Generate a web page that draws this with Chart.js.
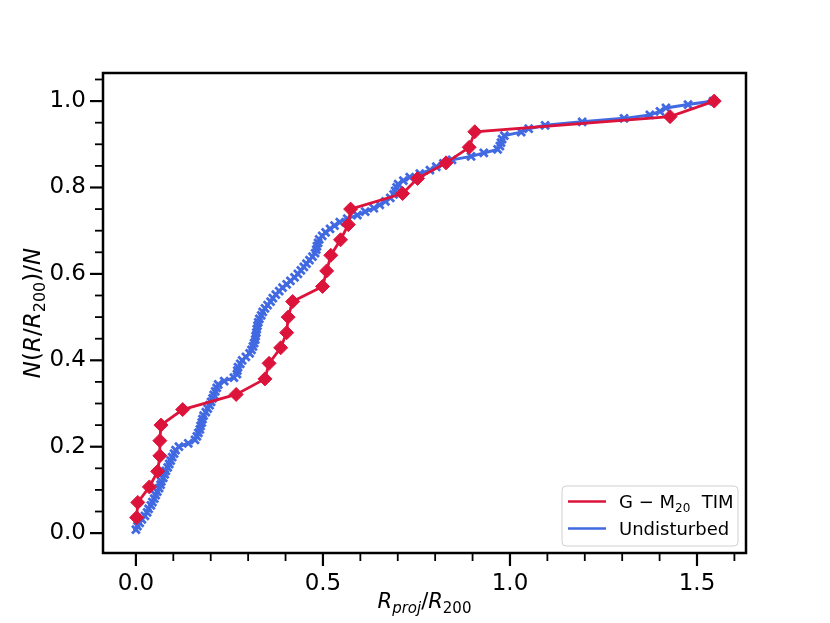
<!DOCTYPE html>
<html>
<head>
<meta charset="utf-8">
<script src="https://cdn.jsdelivr.net/npm/chart.js@4.4.1/dist/chart.umd.min.js"></script>
<style>
  html, body { margin: 0; padding: 0; background: #fff; }
</style>
</head>
<body>
<canvas id="c" width="830" height="623"></canvas>
<script>
// G - M20 TIM sample (cumulative, 28 objects)
const timX = [0.002, 0.005, 0.036, 0.058, 0.064, 0.064, 0.067, 0.125, 0.268, 0.345,
  0.356, 0.387, 0.403, 0.407, 0.419, 0.499, 0.510, 0.521, 0.547, 0.568,
  0.574, 0.713, 0.753, 0.829, 0.891, 0.906, 1.428, 1.546]
const timY = [0.036, 0.071, 0.107, 0.143, 0.179, 0.214, 0.250, 0.286, 0.321, 0.357,
  0.393, 0.429, 0.464, 0.500, 0.536, 0.571, 0.607, 0.643, 0.679, 0.714,
  0.750, 0.786, 0.821, 0.857, 0.893, 0.929, 0.964, 1.000]

// undisturbed sample (cumulative)
const undX = [0.000, 0.004, 0.010, 0.016, 0.024, 0.030, 0.034, 0.040, 0.044, 0.049,
  0.053, 0.057, 0.062, 0.066, 0.068, 0.073, 0.077, 0.080, 0.085, 0.089,
  0.093, 0.097, 0.102, 0.106, 0.115, 0.140, 0.158, 0.163, 0.167, 0.171,
  0.173, 0.176, 0.178, 0.181, 0.187, 0.192, 0.197, 0.201, 0.205, 0.208,
  0.212, 0.216, 0.220, 0.236, 0.262, 0.270, 0.271, 0.273, 0.279, 0.284,
  0.294, 0.304, 0.309, 0.313, 0.316, 0.319, 0.320, 0.322, 0.323, 0.325,
  0.327, 0.330, 0.335, 0.339, 0.345, 0.352, 0.360, 0.366, 0.374, 0.383,
  0.392, 0.403, 0.413, 0.424, 0.433, 0.441, 0.449, 0.456, 0.464, 0.472,
  0.479, 0.482, 0.484, 0.487, 0.490, 0.498, 0.507, 0.519, 0.531, 0.545,
  0.565, 0.592, 0.613, 0.636, 0.652, 0.667, 0.680, 0.689, 0.693, 0.697,
  0.701, 0.715, 0.732, 0.759, 0.786, 0.803, 0.822, 0.845, 0.896, 0.930,
  0.967, 0.973, 0.976, 0.979, 0.985, 1.030, 1.050, 1.094, 1.193, 1.305,
  1.374, 1.401, 1.417, 1.476, 1.543]
const undY = [0.008, 0.016, 0.024, 0.032, 0.040, 0.048, 0.056, 0.064, 0.072, 0.080,
  0.088, 0.096, 0.104, 0.112, 0.120, 0.128, 0.136, 0.144, 0.152, 0.160,
  0.168, 0.176, 0.184, 0.192, 0.200, 0.208, 0.216, 0.224, 0.232, 0.240,
  0.248, 0.256, 0.264, 0.272, 0.280, 0.288, 0.296, 0.304, 0.312, 0.320,
  0.328, 0.336, 0.344, 0.352, 0.360, 0.368, 0.376, 0.384, 0.392, 0.400,
  0.408, 0.416, 0.424, 0.432, 0.440, 0.448, 0.456, 0.464, 0.472, 0.480,
  0.488, 0.496, 0.504, 0.512, 0.520, 0.528, 0.536, 0.544, 0.552, 0.560,
  0.568, 0.576, 0.584, 0.592, 0.600, 0.608, 0.616, 0.624, 0.632, 0.640,
  0.648, 0.656, 0.664, 0.672, 0.680, 0.688, 0.696, 0.704, 0.712, 0.720,
  0.728, 0.736, 0.744, 0.752, 0.760, 0.768, 0.776, 0.784, 0.792, 0.800,
  0.808, 0.816, 0.824, 0.832, 0.840, 0.848, 0.856, 0.864, 0.872, 0.880,
  0.888, 0.896, 0.904, 0.912, 0.920, 0.928, 0.936, 0.944, 0.952, 0.960,
  0.968, 0.976, 0.984, 0.992, 1.000]

const xTicks = [0.0, 0.5, 1.0, 1.5]
const yTicks = [0.0, 0.2, 0.4, 0.6, 0.8, 1.0]

const FONT = "'DejaVu Sans', sans-serif"
const RED = '#dc143c'
const BLUE = '#4169e1'

// draw a run of text pieces, some italic, some as subscripts
function drawMath (ctx, parts, x, y, size, align) {
  const pieceFont = (p) => (p.it ? 'italic ' : '') + Math.round(p.sub ? size * 0.7 : size) + 'px ' + FONT
  let total = 0
  parts.forEach(p => { ctx.font = pieceFont(p); total += ctx.measureText(p.t).width })
  let cx = align === 'center' ? x - total / 2 : x
  ctx.textAlign = 'left'
  ctx.textBaseline = 'alphabetic'
  parts.forEach(p => {
    ctx.font = pieceFont(p)
    ctx.fillText(p.t, cx, p.sub ? y + size * 0.22 : y)
    cx += ctx.measureText(p.t).width
  })
}

const decor = {
  id: 'decor',
  afterDraw (chart) {
    const ctx = chart.ctx
    const a = chart.chartArea
    const xs = chart.scales.x
    const ys = chart.scales.y
    ctx.save()
    ctx.strokeStyle = '#000'
    ctx.fillStyle = '#000'

    // tick marks, minor and major
    for (let i = 0; i <= 16; i++) {
      const px = xs.getPixelForValue(i / 10)
      if (px < a.left || px > a.right) continue
      const major = i % 5 === 0
      ctx.lineWidth = major ? 2.2 : 1.8
      ctx.beginPath()
      ctx.moveTo(px, a.bottom)
      ctx.lineTo(px, a.bottom + (major ? 13 : 8))
      ctx.stroke()
    }
    for (let i = 0; i <= 21; i++) {
      const py = ys.getPixelForValue(i / 20)
      if (py < a.top || py > a.bottom) continue
      const major = i % 4 === 0
      ctx.lineWidth = major ? 2.2 : 1.8
      ctx.beginPath()
      ctx.moveTo(a.left, py)
      ctx.lineTo(a.left - (major ? 13 : 8), py)
      ctx.stroke()
    }

    // frame
    ctx.lineWidth = 2.5
    ctx.strokeRect(a.left, a.top, a.right - a.left, a.bottom - a.top)

    // axis titles
    drawMath(ctx, [
      { t: 'R', it: true }, { t: 'proj', it: true, sub: true },
      { t: '/' }, { t: 'R', it: true }, { t: '200', sub: true }
    ], (a.left + a.right) / 2, 608, 21, 'center')

    ctx.save()
    ctx.translate(40, (a.top + a.bottom) / 2)
    ctx.rotate(-Math.PI / 2)
    drawMath(ctx, [
      { t: 'N', it: true }, { t: '(' }, { t: 'R', it: true }, { t: '/' },
      { t: 'R', it: true }, { t: '200', sub: true }, { t: ')/' }, { t: 'N', it: true }
    ], 0, 0, 23, 'center')
    ctx.restore()

    // legend box
    const lx = 562
    const ly = 486
    const lw = 176
    const lh = 60
    ctx.beginPath()
    ctx.roundRect(lx, ly, lw, lh, 4)
    ctx.fillStyle = 'rgba(255,255,255,0.8)'
    ctx.fill()
    ctx.strokeStyle = '#d0d0d0'
    ctx.lineWidth = 1
    ctx.stroke()

    ctx.lineWidth = 2.5
    ctx.strokeStyle = RED
    ctx.beginPath(); ctx.moveTo(568, 501.5); ctx.lineTo(606, 501.5); ctx.stroke()
    ctx.strokeStyle = BLUE
    ctx.beginPath(); ctx.moveTo(568, 528.5); ctx.lineTo(606, 528.5); ctx.stroke()

    ctx.fillStyle = '#000'
    drawMath(ctx, [{ t: 'G \u2212 M' }, { t: '20', sub: true }, { t: '  TIM' }], 619, 508, 17.5, 'left')
    drawMath(ctx, [{ t: 'Undisturbed' }], 619, 535, 17.5, 'left')
    ctx.restore()
  }
}

const timPoints = timX.map((x, i) => ({ x, y: timY[i] }))
const undPoints = undX.map((x, i) => ({ x, y: undY[i] }))

new Chart(document.getElementById('c').getContext('2d'), {
  type: 'scatter',
  data: {
    datasets: [
      {
        label: 'G - M20 TIM',
        data: timPoints,
        showLine: true,
        borderColor: RED,
        backgroundColor: RED,
        borderWidth: 2.8,
        pointStyle: 'rectRot',
        pointRadius: 7,
        pointBorderWidth: 1
      },
      {
        label: 'Undisturbed',
        data: undPoints,
        showLine: true,
        borderColor: BLUE,
        backgroundColor: BLUE,
        borderWidth: 3,
        pointStyle: 'crossRot',
        pointRadius: 5.5,
        pointBorderWidth: 2.8
      }
    ]
  },
  options: {
    responsive: false,
    animation: false,
    layout: { padding: { left: 0, right: 84, top: 73, bottom: 0 } },
    scales: {
      x: {
        type: 'linear',
        min: -0.088,
        max: 1.631,
        grid: { display: false, drawTicks: false },
        border: { display: false },
        afterBuildTicks: (s) => { s.ticks = xTicks.map(v => ({ value: v })) },
        afterFit: (s) => { s.height = 70 },
        ticks: {
          padding: 17,
          color: '#000',
          maxRotation: 0,
          autoSkip: false,
          font: { family: FONT, size: 23 },
          callback: (v) => v.toFixed(1)
        }
      },
      y: {
        type: 'linear',
        min: -0.046,
        max: 1.065,
        grid: { display: false, drawTicks: false },
        border: { display: false },
        afterBuildTicks: (s) => { s.ticks = yTicks.map(v => ({ value: v })) },
        afterFit: (s) => { s.width = 103 },
        ticks: {
          padding: 17,
          color: '#000',
          autoSkip: false,
          font: { family: FONT, size: 23 },
          callback: (v) => v.toFixed(1)
        }
      }
    },
    plugins: {
      legend: { display: false },
      tooltip: { enabled: false }
    }
  },
  plugins: [decor]
})
</script>
</body>
</html>
